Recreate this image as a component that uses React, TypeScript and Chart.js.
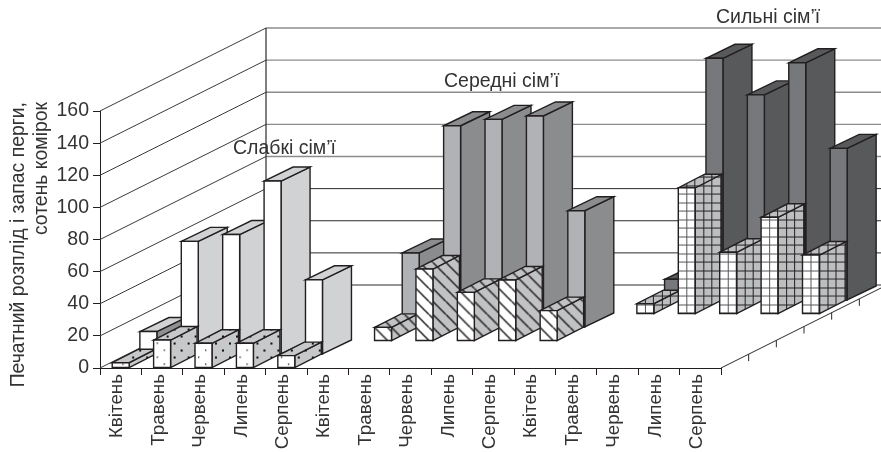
import React, { useEffect, useRef } from "react";
import { Chart, registerables } from "chart.js";

Chart.register(...registerables);

const categories = [
  "Квітень", "Травень", "Червень", "Липень", "Серпень",
  "Квітень", "Травень", "Червень", "Липень", "Серпень",
  "Квітень", "Травень", "Червень", "Липень", "Серпень",
];
const weakBrood = [3.3, 17.4, 15.4, 15.4, 7.7, null, null, null, null, null, null, null, null, null, null];
const weakPollen = [14.3, 70.4, 74.7, 108, 46.5, null, null, null, null, null, null, null, null, null, null];
const mediumBrood = [null, null, null, null, null, 8.5, 44.8, 30.3, 38, 18.9, null, null, null, null, null];
const mediumPollen = [null, null, null, null, null, 46.4, 125.6, 129.6, 131.7, 72.7, null, null, null, null, null];
const strongBrood = [null, null, null, null, null, null, null, null, null, null, 6.4, 78.6, 38.4, 60.2, 36.7];
const strongPollen = [null, null, null, null, null, null, null, null, null, null, 13.2, 150.8, 128, 148, 94.7];
const yTicks = [0, 20, 40, 60, 80, 100, 120, 140, 160];
const yTitleLines = ["Печатний розплід і запас перги,", "сотень комірок"];
const groupTitles = ["Слабкі сім’ї", "Середні сім’ї", "Сильні сім’ї"];

const INK = "#231f20";
const TEXT = "#333333";
const FONT = "'Liberation Sans', Arial, sans-serif";

const ROW_DX = 27.67;
const ROW_DY = 13.5;
const WALL_DX = 166;
const WALL_DY = 83;

type Pat = "dots" | "hatch" | "grid" | null;
const rowStyles: { face: string; side: string; top: string; pattern: Pat; dx: number; dy: number }[] = [
  { face: "#ffffff", side: "#c6c8ca", top: "#c6c8ca", pattern: "dots", dx: 26.5, dy: 13.5 },
  { face: "#ffffff", side: "#d0d2d3", top: "#d0d2d3", pattern: null, dx: 29, dy: 14 },
  { face: "#ffffff", side: "#c0c2c4", top: "#c0c2c4", pattern: "hatch", dx: 26.5, dy: 13.5 },
  { face: "#b0b2b5", side: "#8a8c8e", top: "#8a8c8e", pattern: null, dx: 29, dy: 14 },
  { face: "#ffffff", side: "#bcbec0", top: "#bcbec0", pattern: "grid", dx: 26.5, dy: 13.5 },
  { face: "#77787b", side: "#58595b", top: "#58595b", pattern: null, dx: 29, dy: 14 },
];

function makeTile(size: number, draw: (c: CanvasRenderingContext2D) => void) {
  const cv = document.createElement("canvas");
  cv.width = size;
  cv.height = size;
  draw(cv.getContext("2d")!);
  return cv;
}

function buildPatterns(ctx: CanvasRenderingContext2D) {
  const dots = (r: number) =>
    makeTile(14, (c) => {
      c.fillStyle = "#111";
      c.fillRect(3, 3, r, r);
      c.fillRect(10, 10, r, r);
    });
  const hatch = makeTile(13, (c) => {
    c.strokeStyle = "#231f20";
    c.lineWidth = 1.5;
    for (const o of [-13, 0, 13]) {
      c.beginPath();
      c.moveTo(o, 0);
      c.lineTo(o + 13, 13);
      c.stroke();
    }
  });
  const grid = (color: string) =>
    makeTile(17, (c) => {
      c.fillStyle = color;
      c.fillRect(8, 0, 1, 17);
      c.fillRect(16, 0, 1, 17);
      c.fillRect(0, 8, 17, 1);
      c.fillRect(0, 16, 17, 1);
    });
  return {
    dotsFace: ctx.createPattern(dots(1.3), "repeat")!,
    dotsSide: ctx.createPattern(dots(2), "repeat")!,
    hatch: ctx.createPattern(hatch, "repeat")!,
    gridFace: ctx.createPattern(grid("#55565a"), "repeat")!,
    gridSide: ctx.createPattern(grid("#231f20"), "repeat")!,
  };
}

function poly(
  ctx: CanvasRenderingContext2D,
  pts: number[][],
  color: string,
  pattern: CanvasPattern | null,
  ox: number,
  oy: number,
) {
  ctx.beginPath();
  pts.forEach((p, i) => (i ? ctx.lineTo(p[0], p[1]) : ctx.moveTo(p[0], p[1])));
  ctx.closePath();
  ctx.fillStyle = color;
  ctx.fill();
  if (pattern) {
    pattern.setTransform(new DOMMatrix().translate(ox, oy));
    ctx.fillStyle = pattern;
    ctx.fill();
  }
  ctx.strokeStyle = INK;
  ctx.lineWidth = 1.4;
  ctx.lineJoin = "miter";
  ctx.stroke();
}

const scene3d = {
  id: "scene3d",
  beforeDatasetsDraw(chart: any) {
    const ctx: CanvasRenderingContext2D = chart.ctx;
    const y = chart.scales.y;
    const { left, right } = chart.chartArea;
    const wallX = left + WALL_DX;
    const zeroY = y.getPixelForValue(0);
    ctx.save();

    // back wall gridlines and side wall diagonals
    yTicks.forEach((v) => {
      const py = y.getPixelForValue(v);
      ctx.beginPath();
      ctx.moveTo(left, py);
      ctx.lineTo(wallX, py - WALL_DY);
      ctx.strokeStyle = "#3a3a3a";
      ctx.lineWidth = 1;
      ctx.stroke();
      ctx.beginPath();
      ctx.moveTo(wallX, py - WALL_DY);
      ctx.lineTo(chart.width, py - WALL_DY);
      ctx.strokeStyle = v >= 80 ? "#8c8c8c" : "#2a2a2a";
      ctx.lineWidth = v >= 80 ? 1.4 : 1;
      ctx.stroke();
    });
    ctx.beginPath();
    ctx.moveTo(wallX, y.getPixelForValue(160) - WALL_DY);
    ctx.lineTo(wallX, zeroY - WALL_DY);
    ctx.strokeStyle = "#2a2a2a";
    ctx.lineWidth = 1.2;
    ctx.stroke();

    // right floor edge with depth ticks
    ctx.beginPath();
    ctx.moveTo(right, zeroY);
    ctx.lineTo(right + WALL_DX, zeroY - WALL_DY);
    ctx.strokeStyle = "#2a2a2a";
    ctx.lineWidth = 1;
    ctx.stroke();
    for (let k = 1; k < 6; k++) {
      const tx = right + (WALL_DX / 6) * k;
      const ty = zeroY - (WALL_DY / 6) * k;
      ctx.beginPath();
      ctx.moveTo(tx, ty);
      ctx.lineTo(tx, ty + 7);
      ctx.stroke();
    }

    // boxes, back row first
    const pats = chart.$patterns || (chart.$patterns = buildPatterns(ctx));
    for (let row = chart.data.datasets.length - 1; row >= 0; row--) {
      const st = rowStyles[row];
      const meta = chart.getDatasetMeta(row);
      const values = chart.data.datasets[row].data;
      meta.data.forEach((el: any, i: number) => {
        if (values[i] == null) return;
        const { x, y: top, base, width } = el.getProps(["x", "y", "base", "width"], true);
        const x0 = x - width / 2 + row * ROW_DX;
        const x1 = x0 + width;
        const yt = top - row * ROW_DY;
        const yb = base - row * ROW_DY;
        const { dx, dy } = st;
        const sidePts = [[x1, yt], [x1 + dx, yt - dy], [x1 + dx, yb - dy], [x1, yb]];
        const topPts = [[x0, yt], [x0 + dx, yt - dy], [x1 + dx, yt - dy], [x1, yt]];
        const facePts = [[x0, yt], [x1, yt], [x1, yb], [x0, yb]];
        const sideCol = row === 1 && i === 0 ? "#8e9092" : st.side;
        let fp: CanvasPattern | null = null;
        let sp: CanvasPattern | null = null;
        if (st.pattern === "dots") { fp = pats.dotsFace; sp = pats.dotsSide; }
        if (st.pattern === "hatch") { fp = pats.hatch; sp = pats.hatch; }
        if (st.pattern === "grid") { fp = pats.gridFace; sp = pats.gridSide; }
        poly(ctx, sidePts, sideCol, sp, x1, yb);
        poly(ctx, topPts, st.top, sp, x1, yb);
        poly(ctx, facePts, st.face, fp, x0, yb);
      });
    }

    // free text
    ctx.fillStyle = TEXT;
    ctx.font = `19.5px ${FONT}`;
    ctx.textBaseline = "alphabetic";
    ctx.textAlign = "left";
    ctx.fillText(groupTitles[0], 233, 154);
    ctx.fillText(groupTitles[1], 444, 87);
    ctx.fillText(groupTitles[2], 716, 23);

    ctx.font = `19.4px ${FONT}`;
    ctx.textAlign = "right";
    ctx.translate(24, 102);
    ctx.rotate(-Math.PI / 2);
    ctx.fillText(yTitleLines[0], 0, 0);
    ctx.fillText(yTitleLines[1], 0, 22.5);
    ctx.restore();
    return false;
  },
};

export default function App() {
  const ref = useRef<HTMLCanvasElement>(null);
  useEffect(() => {
    const series = [weakBrood, weakPollen, mediumBrood, mediumPollen, strongBrood, strongPollen];
    const chart = new Chart(ref.current!, {
      type: "bar",
      data: {
        labels: categories,
        datasets: series.map((data, i) => ({
          label: `row ${i + 1}`,
          data,
          backgroundColor: rowStyles[i].face,
          grouped: false,
          barPercentage: 0.41,
          categoryPercentage: 1,
        })),
      },
      options: {
        responsive: false,
        animation: false,
        layout: { padding: { top: 111, right: 160, left: 0, bottom: 0 } },
        plugins: { legend: { display: false }, tooltip: { enabled: false }, title: { display: false } },
        scales: {
          x: {
            afterFit(s: any) { s.height = 84; },
            border: { display: true, color: INK, width: 1 },
            grid: { drawOnChartArea: false, drawTicks: true, tickLength: 7, color: INK, offset: true },
            ticks: {
              autoSkip: false,
              minRotation: 90,
              maxRotation: 90,
              padding: -1,
              labelOffset: -3.5,
              color: TEXT,
              font: { family: FONT, size: 18.8 },
            },
          },
          y: {
            min: 0,
            max: 160,
            afterFit(s: any) { s.width = 100; },
            border: { display: true, color: INK, width: 1 },
            grid: { drawOnChartArea: false, drawTicks: true, tickLength: 7, color: INK },
            afterBuildTicks(s: any) { s.ticks = yTicks.map((value) => ({ value })); },
            ticks: { padding: 4, color: TEXT, font: { family: FONT, size: 19.5 } },
          },
        },
      },
      plugins: [scene3d],
    } as any);
    return () => chart.destroy();
  }, []);
  return (
    <canvas
      ref={ref}
      width={881}
      height={452}
      style={{ position: "fixed", left: 0, top: 0, display: "block", background: "#fff" }}
    />
  );
}
